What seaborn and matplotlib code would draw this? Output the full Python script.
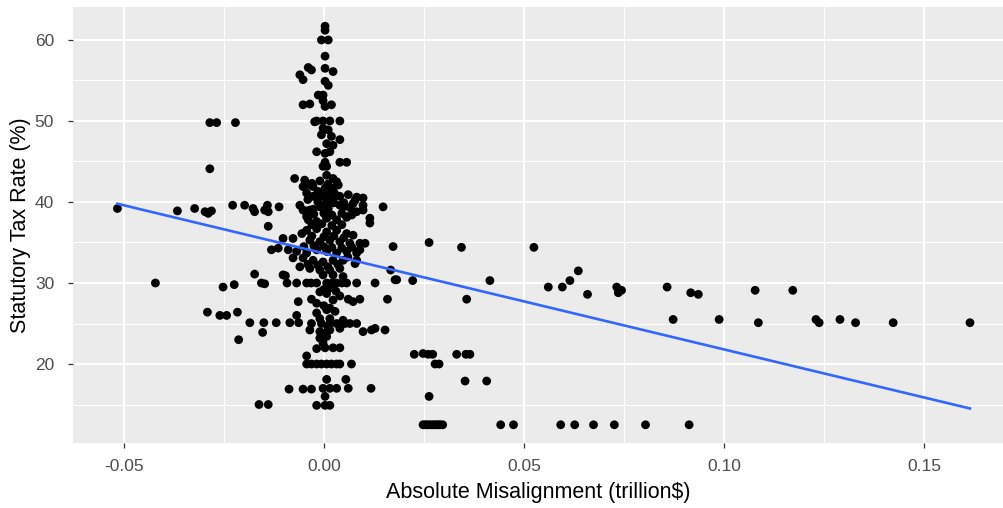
import matplotlib
matplotlib.use("Agg")
import matplotlib.pyplot as plt
import seaborn as sns
import numpy as np
import pandas as pd
from matplotlib.ticker import FixedLocator, FixedFormatter

# ---- data ----
# points left of the main column
x_left = [-0.0516, -0.0421, -0.0366, -0.0323, -0.0297, -0.0289, -0.0281, -0.0285, -0.0268, -0.0221,
          -0.0285, -0.0228, -0.0198, -0.0177, -0.0173, -0.0148, -0.0141, -0.0139, -0.0112, -0.0139,
          -0.0102, -0.0077, -0.0131, -0.0114, -0.0089, -0.0068, -0.0173, -0.0096, -0.0102, -0.0252,
          -0.0224, -0.0156, -0.0148, -0.0092, -0.0291, -0.0260, -0.0243, -0.0216, -0.0185, -0.0150,
          -0.0119, -0.0153, -0.0213, -0.0087, -0.0052, -0.0031, -0.0162, -0.0139]
y_left = [39.2, 30.0, 38.9, 39.2, 38.8, 38.6, 38.9, 49.8, 49.8, 49.8,
          44.1, 39.6, 39.6, 39.2, 38.8, 39.0, 39.6, 38.8, 39.4, 37.0,
          35.5, 35.5, 34.1, 34.3, 34.1, 33.9, 31.1, 30.9, 31.0, 29.5,
          29.8, 30.0, 29.9, 30.0, 26.4, 26.0, 26.0, 26.4, 25.1, 25.1,
          25.1, 23.9, 23.0, 16.9, 16.9, 16.9, 15.0, 15.0]

# upper part of the main column (above ~40 %)
x_core_hi = [0.0003, 0.0003, -0.0006, 0.0011, 0.0003, -0.0039, -0.0031, -0.0060, -0.0052, 0.0003,
             0.0023, 0.0003, 0.0011, -0.0014, -0.0002, -0.0002, 0.0003, -0.0052, -0.0035, 0.0019,
             -0.0018, -0.0002, 0.0015, 0.0040, -0.0023, -0.0002, 0.0011, -0.0006, 0.0019, 0.0040,
             0.0007, 0.0023, -0.0018, 0.0003, 0.0015, 0.0003, 0.0040, 0.0057, -0.0002, 0.0007,
             -0.0073, -0.0048, -0.0035, -0.0052, 0.0007, 0.0023, 0.0032, 0.0036, -0.0027, -0.0014,
             0.0003, 0.0019, -0.0043, -0.0027, -0.0002, 0.0015, 0.0040, 0.0061, 0.0078, 0.0098,
             -0.0018, 0.0007, 0.0032, 0.0082]
y_core_hi = [61.7, 61.2, 60.0, 60.0, 58.0, 56.6, 56.3, 55.7, 55.1, 56.5,
             56.1, 54.9, 54.4, 53.2, 53.2, 52.5, 51.8, 52.0, 52.1, 52.0,
             50.0, 50.0, 50.0, 50.0, 49.9, 49.1, 48.9, 48.3, 48.1, 47.7,
             47.2, 47.0, 46.2, 46.0, 46.2, 44.9, 44.9, 44.9, 44.4, 44.4,
             42.9, 42.7, 42.1, 41.9, 43.3, 42.9, 42.5, 42.1, 41.9, 41.3,
             41.7, 41.7, 41.1, 40.7, 40.7, 40.5, 40.7, 40.9, 40.2, 40.5,
             40.9, 40.9, 40.8, 40.6]

# middle part of the main column (~30-40 %)
x_core_mid = [-0.0060, -0.0035, -0.0010, 0.0011, 0.0040, 0.0082, 0.0098, 0.0148, -0.0052, -0.0027,
              0.0048, 0.0073, 0.0098, -0.0043, 0.0007, 0.0057, 0.0115, -0.0039, -0.0018, 0.0007,
              0.0032, 0.0057, 0.0115, -0.0043, -0.0018, 0.0007, 0.0032, 0.0057, 0.0073, -0.0035,
              -0.0010, 0.0015, 0.0040, 0.0065, 0.0090, 0.0103, -0.0018, 0.0007, 0.0032, 0.0057,
              0.0082, 0.0090, -0.0043, -0.0077, -0.0052, -0.0027, -0.0002, 0.0023, 0.0048, 0.0082,
              0.0173, -0.0060, -0.0035, -0.0010, 0.0015, 0.0040, 0.0078, 0.0167, 0.0178, -0.0002,
              0.0023, 0.0048, -0.0068, -0.0043, -0.0018, 0.0007, 0.0032, 0.0057, 0.0082, 0.0128,
              0.0182, -0.0032, 0.0045, 0.0020]
y_core_mid = [39.6, 39.0, 39.4, 39.2, 39.6, 38.8, 39.6, 39.4, 39.0, 39.1,
              39.4, 39.8, 39.0, 38.2, 38.1, 38.1, 38.0, 37.8, 37.6, 38.0,
              37.8, 38.2, 37.4, 36.5, 36.7, 36.3, 36.5, 36.1, 35.9, 35.3,
              35.1, 35.3, 35.1, 34.9, 34.9, 34.9, 34.1, 33.9, 33.7, 33.9,
              33.7, 34.1, 33.7, 33.1, 33.1, 32.8, 32.6, 32.8, 32.8, 32.8,
              34.5, 32.0, 31.8, 31.6, 31.6, 31.8, 32.4, 31.6, 30.4, 31.0,
              31.0, 30.8, 30.0, 30.0, 30.0, 30.0, 30.0, 30.0, 30.0, 30.0,
              30.4, 30.0, 30.0, 30.0]

# overlapping points that make the dense centre of the column look solid
x_core_dense = [-0.0030, -0.0010, 0.0010, 0.0025, -0.0040, -0.0015, 0.0005, 0.0025, 0.0050, 0.0065,
                -0.0045, -0.0025, 0.0000, 0.0020, 0.0045, 0.0070, -0.0030, -0.0005, 0.0020, 0.0045,
                -0.0055, -0.0030, 0.0000, 0.0025, 0.0050, -0.0050, -0.0025, 0.0000, 0.0020, 0.0045,
                0.0070, -0.0040, -0.0015, 0.0010, 0.0035, 0.0060, 0.0000, 0.0015, -0.0010, 0.0030,
                0.0000, 0.0015, 0.0010, 0.0000]
y_core_dense = [42.3, 42.6, 42.2, 41.2, 40.3, 40.0, 39.8, 39.9, 39.9, 39.3,
                38.9, 38.5, 38.6, 38.4, 38.6, 38.4, 37.2, 37.3, 37.1, 37.2,
                36.1, 35.8, 35.7, 35.8, 35.6, 34.5, 34.6, 34.5, 34.4, 34.3,
                34.4, 32.3, 32.2, 32.0, 32.3, 33.2, 29.2, 29.4, 28.9, 29.0,
                27.2, 26.9, 24.6, 23.8]

# lower part of the main column (below 30 %)
x_core_lo = [-0.0064, -0.0031, -0.0018, 0.0007, 0.0023, 0.0040, 0.0061, 0.0073, 0.0090, 0.0159,
             -0.0068, -0.0018, 0.0007, 0.0028, -0.0010, 0.0015, -0.0031, -0.0006, 0.0015, 0.0032,
             0.0053, 0.0065, 0.0082, 0.0048, -0.0085, -0.0063, -0.0035, -0.0010, 0.0015, 0.0040,
             0.0098, 0.0119, 0.0128, 0.0153, -0.0010, -0.0002, 0.0007, -0.0018, 0.0003, 0.0023,
             0.0040, -0.0043, -0.0043, -0.0031, -0.0018, -0.0006, 0.0007, 0.0019, 0.0032, 0.0040,
             0.0069, 0.0007, 0.0055, -0.0002, 0.0015, 0.0032, 0.0061, 0.0118, 0.0003, -0.0018,
             0.0003, 0.0015]
y_core_lo = [27.7, 28.0, 27.5, 28.7, 27.9, 28.4, 28.0, 27.7, 28.0, 28.0,
             26.0, 26.3, 26.7, 26.5, 25.6, 25.6, 25.0, 25.0, 25.0, 25.0,
             25.0, 25.0, 25.0, 25.4, 25.1, 25.1, 24.2, 24.0, 24.2, 24.4,
             24.0, 24.2, 24.4, 24.2, 23.2, 22.6, 23.4, 21.9, 22.0, 22.0,
             22.0, 21.0, 20.0, 20.0, 20.0, 20.0, 20.0, 20.0, 20.0, 20.0,
             20.0, 18.1, 18.1, 17.0, 17.0, 17.0, 17.0, 17.0, 16.0, 14.9,
             14.9, 14.9]

# points right of the main column
x_right = [0.0263, 0.0344, 0.0525, 0.0222, 0.0415, 0.0357, 0.0561, 0.0596, 0.0615, 0.0636,
           0.0659, 0.0732, 0.0736, 0.0744, 0.0858, 0.0873, 0.0917, 0.0936, 0.0226, 0.0248,
           0.0261, 0.0272, 0.0278, 0.0288, 0.0263, 0.0332, 0.0355, 0.0365, 0.0353, 0.0407,
           0.0442, 0.0474, 0.0592, 0.0627, 0.0674,
           0.0726, 0.0804, 0.0913, 0.0988, 0.1078, 0.1086, 0.1172, 0.1230, 0.1238, 0.1290,
           0.1329, 0.1423, 0.1615]
y_right = [35.0, 34.4, 34.4, 30.3, 30.3, 28.0, 29.5, 29.5, 30.3, 31.5,
           28.6, 29.5, 28.8, 29.1, 29.5, 25.5, 28.8, 28.6, 21.2, 21.3,
           21.2, 21.2, 20.0, 20.0, 16.0, 21.2, 21.2, 21.2, 17.9, 17.9,
           12.5, 12.5, 12.5, 12.5, 12.5,
           12.5, 12.5, 12.5, 25.5, 29.1, 25.1, 29.1, 25.5, 25.1, 25.5,
           25.1, 25.1, 25.1]

# overlapping points forming the solid bar at the bottom (x ~ 0.025-0.03)
x_bottom_bar = [0.0248, 0.0253, 0.0258, 0.0264, 0.0270, 0.0276,
                0.0281, 0.0286, 0.0291, 0.0297]
y_bottom_bar = [12.5, 12.5, 12.5, 12.5, 12.5, 12.5,
                12.5, 12.5, 12.5, 12.5]

x_ticks = [-0.05, 0.00, 0.05, 0.10, 0.15]
x_tick_labels = ["-0.05", "0.00", "0.05", "0.10", "0.15"]
y_ticks = [20, 30, 40, 50, 60]
y_tick_labels = ["20", "30", "40", "50", "60"]
x_label = "Absolute Misalignment (trillion$)"
y_label = "Statutory Tax Rate (%)"

df = pd.DataFrame({
    "x": x_left + x_core_hi + x_core_mid + x_core_dense + x_core_lo + x_right + x_bottom_bar,
    "y": y_left + y_core_hi + y_core_mid + y_core_dense + y_core_lo + y_right + y_bottom_bar,
})

# ---- figure ----
plt.rcParams["font.family"] = ["Liberation Sans", "DejaVu Sans"]
fig = plt.figure(figsize=(10.04, 5.08), dpi=100)
ax = fig.add_axes([73 / 1004, 65 / 508, (1004 - 73) / 1004, 436 / 508])
ax.set_facecolor("#EBEBEB")
for s in ax.spines.values():
    s.set_visible(False)

sns.scatterplot(data=df, x="x", y="y", ax=ax, color="black", s=40,
                edgecolor="none", linewidth=0, zorder=3)
sns.regplot(data=df, x="x", y="y", ax=ax, scatter=False, ci=None,
            color="#3366FF", line_kws={"linewidth": 1.9, "zorder": 4})

ax.set_xlim(-0.0627, 0.170)
ax.set_ylim(10.25, 64.07)

ax.xaxis.set_major_locator(FixedLocator(x_ticks))
ax.xaxis.set_major_formatter(FixedFormatter(x_tick_labels))
ax.yaxis.set_major_locator(FixedLocator(y_ticks))
ax.yaxis.set_major_formatter(FixedFormatter(y_tick_labels))
ax.xaxis.set_minor_locator(FixedLocator([-0.025, 0.025, 0.075, 0.125]))
ax.yaxis.set_minor_locator(FixedLocator([15, 25, 35, 45, 55]))

ax.grid(which="major", color="white", linewidth=1.5, zorder=0)
ax.grid(which="minor", color="white", linewidth=0.75, zorder=0)
ax.set_axisbelow(True)

ax.tick_params(which="major", length=3.6, width=0.9, color="#333333",
               labelcolor="#4D4D4D", labelsize=12.5)
ax.tick_params(axis="x", which="major", pad=8)
ax.tick_params(axis="y", which="major", pad=10)
ax.tick_params(which="minor", length=0)

ax.set_xlabel(x_label, fontsize=15.5, color="black", labelpad=6)
ax.set_ylabel(y_label, fontsize=15.5, color="black", labelpad=2.5)

fig.savefig("out.png", dpi=100)
